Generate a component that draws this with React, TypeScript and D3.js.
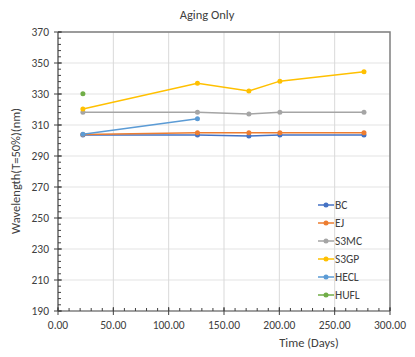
import React, { useEffect, useRef } from "react";
import * as d3 from "d3";

const days = [22.5, 126, 172.5, 200.5, 276.5];
const seriesNames = ["BC", "EJ", "S3MC", "S3GP", "HECL", "HUFL"];
const colors = ["#4472C4", "#ED7D31", "#A5A5A5", "#FFC000", "#5B9BD5", "#70AD47"];
const bcValues = [303.6, 303.6, 302.9, 303.6, 303.6];
const ejValues = [303.9, 305, 305, 305, 305];
const s3mcValues = [318.2, 318.2, 317.1, 318.2, 318.2];
const s3gpValues = [320.3, 337, 332, 338.3, 344.3];
const heclValues = [304, 314];
const huflValues = [330.2];
const yTicks = [190, 210, 230, 250, 270, 290, 310, 330, 350, 370];
const xTicks = [0, 50, 100, 150, 200, 250, 300];

const width = 415;
const height = 357;
const font = "Carlito, Calibri, 'Liberation Sans', sans-serif";

const App = () => {
  const svgRef = useRef<SVGSVGElement>(null);

  useEffect(() => {
    const svg = d3.select(svgRef.current);
    svg.selectAll("*").remove();

    const x = d3.scaleLinear().domain([0, 300]).range([58, 390]);
    const y = d3.scaleLinear().domain([190, 370]).range([311, 32]);

    const allValues = [bcValues, ejValues, s3mcValues, s3gpValues, heclValues, huflValues];

    // gridlines
    svg
      .append("g")
      .selectAll("line")
      .data(yTicks.slice(1))
      .join("line")
      .attr("x1", x(0))
      .attr("x2", x(300))
      .attr("y1", (d) => y(d))
      .attr("y2", (d) => y(d))
      .attr("stroke", "#e4e4e4")
      .attr("stroke-width", 1.2);
    svg
      .append("g")
      .selectAll("line")
      .data(xTicks.slice(1, -1))
      .join("line")
      .attr("x1", (d) => x(d))
      .attr("x2", (d) => x(d))
      .attr("y1", y(190))
      .attr("y2", y(370))
      .attr("stroke", "#d9d9d9")
      .attr("stroke-width", 1);

    // top and right border
    svg
      .append("path")
      .attr("d", `M${x(0)},${y(370)}H${x(300)}V${y(190)}`)
      .attr("fill", "none")
      .attr("stroke", "#7f7f7f")
      .attr("stroke-width", 1.5);

    // y axis
    const yAxis = svg.append("g");
    yAxis
      .append("line")
      .attr("x1", x(0))
      .attr("x2", x(0))
      .attr("y1", y(190))
      .attr("y2", y(370))
      .attr("stroke", "#404040")
      .attr("stroke-width", 1.2);
    yAxis
      .selectAll("line.minor")
      .data(d3.range(190, 371, 4))
      .join("line")
      .attr("class", "minor")
      .attr("x1", x(0))
      .attr("x2", x(0) + 3)
      .attr("y1", (d) => y(d))
      .attr("y2", (d) => y(d))
      .attr("stroke", "#404040");
    yAxis
      .selectAll("line.major")
      .data(yTicks)
      .join("line")
      .attr("class", "major")
      .attr("x1", x(0) - 4)
      .attr("x2", x(0) + 4)
      .attr("y1", (d) => y(d))
      .attr("y2", (d) => y(d))
      .attr("stroke", "#404040");
    yAxis
      .selectAll("text")
      .data(yTicks)
      .join("text")
      .attr("x", x(0) - 9)
      .attr("y", (d) => y(d))
      .attr("dy", "0.35em")
      .attr("text-anchor", "end")
      .attr("font-family", font)
      .attr("font-size", 11.5)
      .attr("fill", "#404040")
      .text((d) => d);

    // x axis
    const xAxis = svg.append("g");
    xAxis
      .append("line")
      .attr("x1", x(0))
      .attr("x2", x(300))
      .attr("y1", y(190))
      .attr("y2", y(190))
      .attr("stroke", "#404040")
      .attr("stroke-width", 1.2);
    xAxis
      .selectAll("line.minor")
      .data(d3.range(0, 301, 10))
      .join("line")
      .attr("class", "minor")
      .attr("x1", (d) => x(d))
      .attr("x2", (d) => x(d))
      .attr("y1", y(190))
      .attr("y2", y(190) - 3)
      .attr("stroke", "#404040");
    xAxis
      .selectAll("line.major")
      .data(xTicks)
      .join("line")
      .attr("class", "major")
      .attr("x1", (d) => x(d))
      .attr("x2", (d) => x(d))
      .attr("y1", y(190) - 4)
      .attr("y2", y(190) + 4)
      .attr("stroke", "#404040");
    xAxis
      .selectAll("text")
      .data(xTicks)
      .join("text")
      .attr("x", (d) => x(d))
      .attr("y", 329)
      .attr("text-anchor", "middle")
      .attr("font-family", font)
      .attr("font-size", 11.5)
      .attr("fill", "#404040")
      .text((d) => d.toFixed(2));

    // series
    const line = d3
      .line<number>()
      .x((_, i) => x(days[i]))
      .y((d) => y(d));
    allValues.forEach((vals, si) => {
      const g = svg.append("g");
      g.append("path")
        .attr("d", line(vals))
        .attr("fill", "none")
        .attr("stroke", colors[si])
        .attr("stroke-width", 1.5);
      g.selectAll("circle")
        .data(vals)
        .join("circle")
        .attr("cx", (_, i) => x(days[i]))
        .attr("cy", (d) => y(d))
        .attr("r", 2.5)
        .attr("fill", colors[si]);
    });

    // legend
    const legend = svg
      .append("g")
      .selectAll("g")
      .data(seriesNames)
      .join("g")
      .attr("transform", (_, i) => `translate(318,${205 + i * 18})`);
    legend
      .append("line")
      .attr("x1", 0)
      .attr("x2", 16)
      .attr("stroke", (_, i) => colors[i])
      .attr("stroke-width", 1.5);
    legend
      .append("circle")
      .attr("cx", 8)
      .attr("r", 2.5)
      .attr("fill", (_, i) => colors[i]);
    legend
      .append("text")
      .attr("x", 17)
      .attr("dy", "0.35em")
      .attr("font-family", font)
      .attr("font-size", 11.5)
      .attr("fill", "#404040")
      .text((d) => d);

    // titles
    svg
      .append("text")
      .attr("x", 207)
      .attr("y", 19)
      .attr("text-anchor", "middle")
      .attr("font-family", font)
      .attr("font-size", 12.5)
      .attr("fill", "#404040")
      .text("Aging Only");
    svg
      .append("text")
      .attr("x", 309)
      .attr("y", 347)
      .attr("text-anchor", "middle")
      .attr("font-family", font)
      .attr("font-size", 12.5)
      .attr("fill", "#404040")
      .text("Time (Days)");
    svg
      .append("text")
      .attr("transform", "translate(20,171) rotate(-90)")
      .attr("text-anchor", "middle")
      .attr("font-family", font)
      .attr("font-size", 12.5)
      .attr("fill", "#404040")
      .text("Wavelength(T=50%)(nm)");
  }, []);

  return (
    <svg
      ref={svgRef}
      width={width}
      height={height}
      style={{ position: "absolute", left: 0, top: 0, background: "#fff" }}
    ></svg>
  );
};

export default App;
